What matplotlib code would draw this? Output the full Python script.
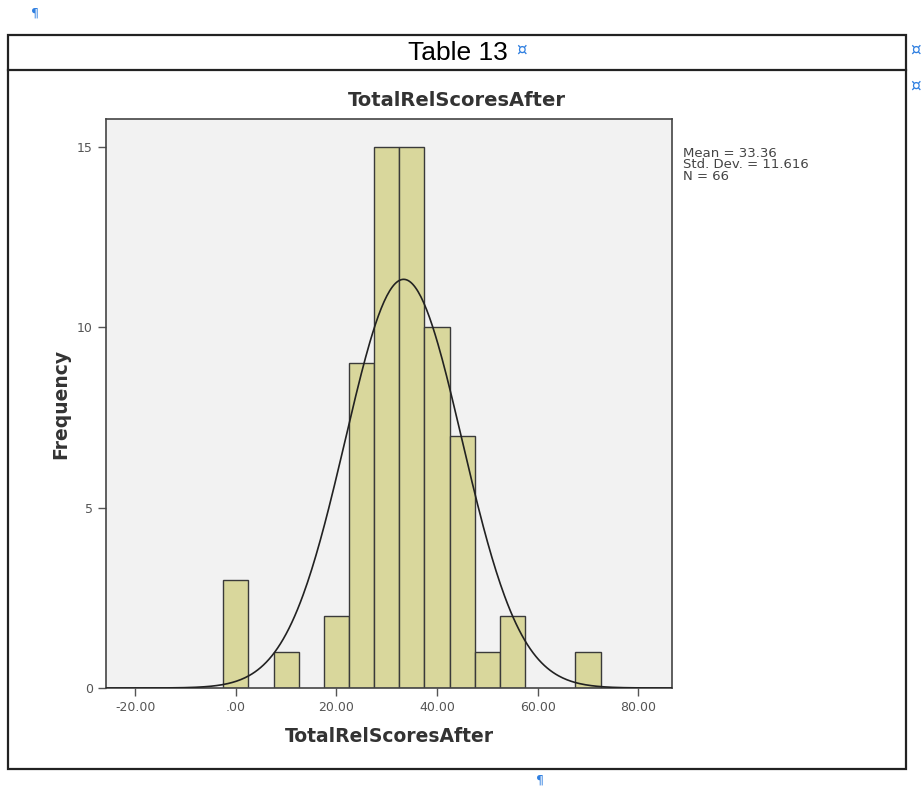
import numpy as np
import matplotlib
matplotlib.use('Agg')
import matplotlib.pyplot as plt
from matplotlib.patches import Rectangle

# Histogram data (bin width 5)
bin_left = [-2.5, 7.5, 17.5, 22.5, 27.5, 32.5, 37.5, 42.5, 47.5, 52.5, 67.5]
counts = [3, 1, 2, 9, 15, 15, 10, 7, 1, 2, 1]
bin_width = 5
mean = 33.36
std_dev = 11.616
n_total = 66
x_ticks = [-20, 0, 20, 40, 60, 80]
x_tick_labels = ['-20.00', '.00', '20.00', '40.00', '60.00', '80.00']
y_ticks = [0, 5, 10, 15]

W, H = 924, 789
fig = plt.figure(figsize=(W / 100, H / 100), dpi=100)
fig.patch.set_facecolor('white')

# Word-style table frame around the chart
def fx(px):
    return px / W

def fy(py):
    return 1 - py / H

frame = Rectangle((fx(8), fy(769)), fx(906) - fx(8), fy(35) - fy(769),
                  transform=fig.transFigure, fill=False, edgecolor='#222222', lw=1.6)
fig.patches.append(frame)
fig.add_artist(plt.Line2D([fx(8), fx(906)], [fy(70), fy(70)],
                          transform=fig.transFigure, color='#222222', lw=1.6))
fig.text(fx(458), fy(53), 'Table 13', ha='center', va='center', fontsize=19,
         family='Liberation Sans', color='black')
# formatting marks
blue = '#2f7fe0'
fig.text(fx(522), fy(50), '¤', ha='center', va='center', fontsize=12, color=blue)
fig.text(fx(916), fy(50), '¤', ha='center', va='center', fontsize=12, color=blue)
fig.text(fx(916), fy(86), '¤', ha='center', va='center', fontsize=12, color=blue)
fig.text(fx(35), fy(13), '¶', ha='center', va='center', fontsize=9, color=blue)
fig.text(fx(540), fy(780), '¶', ha='center', va='center', fontsize=9, color=blue)

# Chart
ax = fig.add_axes([fx(106), fy(688), fx(672) - fx(106), fy(119) - fy(688)])
ax.set_facecolor('#f2f2f2')
ax.bar(bin_left, counts, width=bin_width, align='edge', color='#d9d79c',
       edgecolor='#3a3a3a', linewidth=1.0, zorder=2)

xs = np.linspace(-25.8, 86.7, 400)
pdf = np.exp(-0.5 * ((xs - mean) / std_dev) ** 2) / (std_dev * np.sqrt(2 * np.pi))
ax.plot(xs, pdf * n_total * bin_width, color='#222222', lw=1.2, zorder=3)

ax.set_xlim(-25.8, 86.7)
ax.set_ylim(0, 15.78)
ax.set_xticks(x_ticks)
ax.set_xticklabels(x_tick_labels)
ax.set_yticks(y_ticks)
ax.tick_params(axis='both', colors='#555555', labelsize=9, length=6, width=1)
for s in ax.spines.values():
    s.set_color('#444444')
    s.set_linewidth(1.2)

ax.set_xlabel('TotalRelScoresAfter', fontsize=13.5, fontweight='bold', color='#333333', labelpad=9)
ax.set_ylabel('Frequency', fontsize=13.5, fontweight='bold', color='#333333', labelpad=5)
fig.text(fx(457), fy(101), 'TotalRelScoresAfter', ha='center', va='center',
         fontsize=14, fontweight='bold', color='#333333')

fig.text(fx(683), fy(147), 'Mean = %.2f\nStd. Dev. = %.3f\nN = %d' % (mean, std_dev, n_total),
         ha='left', va='top', fontsize=9.5, color='#444444', linespacing=0.85)

fig.savefig('out.png', dpi=100)
